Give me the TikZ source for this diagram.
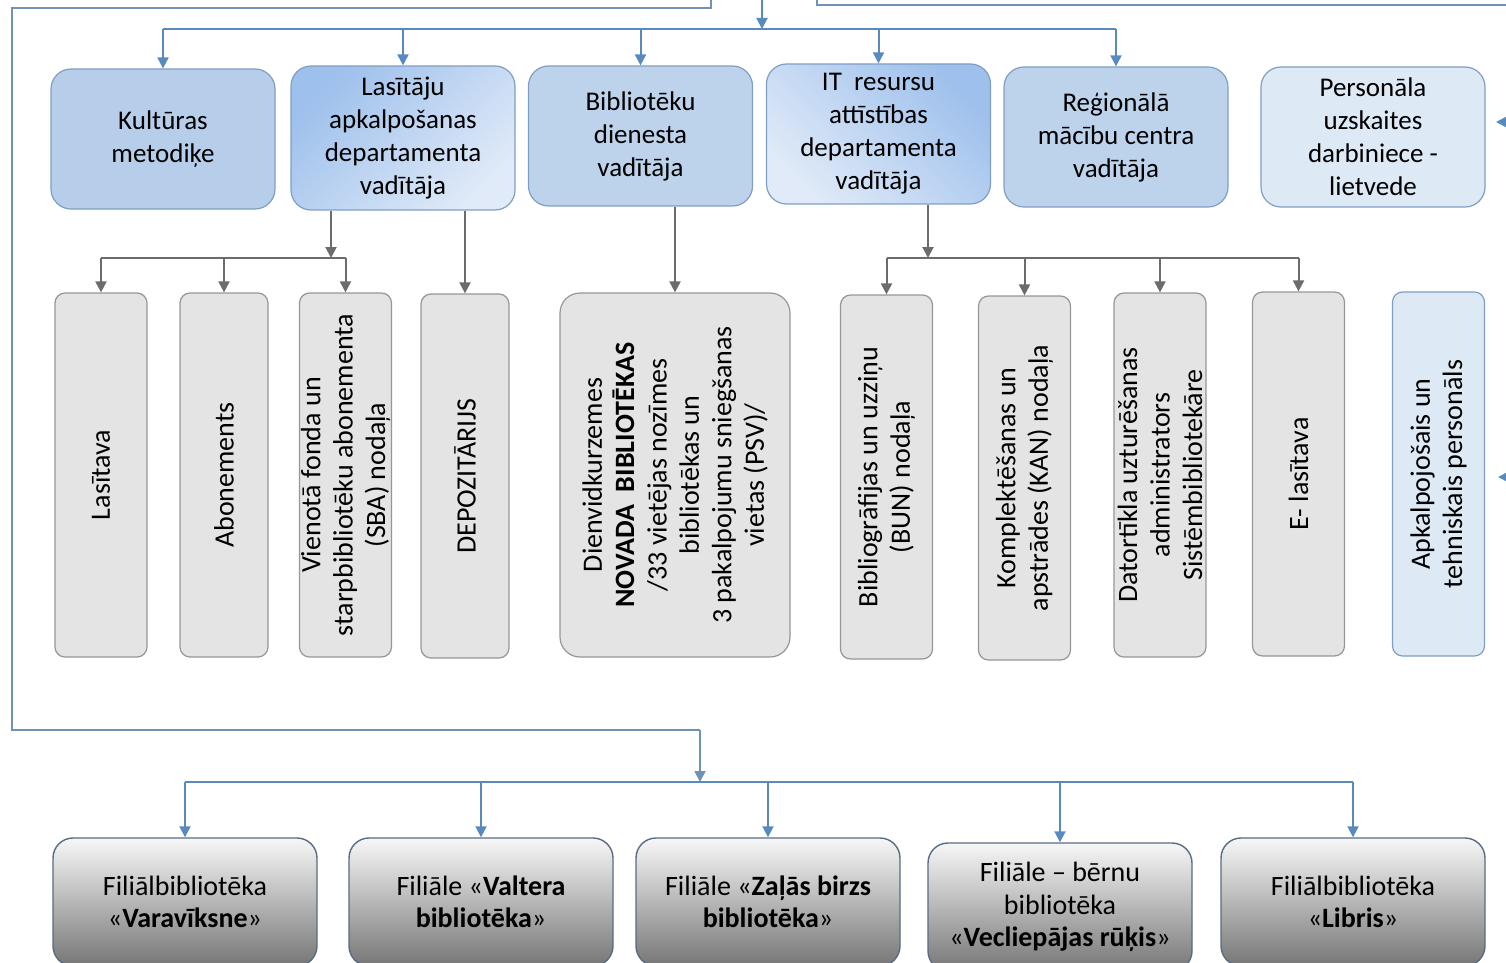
\documentclass[tikz,border=0pt]{standalone}
\usepackage{fontspec}
\setmainfont{Carlito}
\usetikzlibrary{arrows.meta}
\definecolor{linkblue}{RGB}{88,138,192}
\definecolor{frameblue}{RGB}{112,146,180}
\definecolor{linkgray}{RGB}{108,108,108}
\definecolor{boxedge}{RGB}{128,158,195}
\definecolor{fillA}{RGB}{182,206,234}
\definecolor{fillB}{RGB}{189,211,235}
\definecolor{gradA}{RGB}{158,192,236}
\definecolor{gradB}{RGB}{224,234,248}
\definecolor{paleblue}{RGB}{222,233,246}
\definecolor{cellgray}{RGB}{228,228,228}
\definecolor{celledge}{RGB}{150,150,150}
\definecolor{filtop}{RGB}{247,247,247}
\definecolor{filbot}{RGB}{118,118,118}
\definecolor{filedge}{RGB}{88,108,132}

\begin{document}
\begin{tikzpicture}
[every node/.style={inner sep=0pt, align=center, font=\fontsize{13.5}{16.5}\selectfont},
 >={Triangle[width=5.5pt,length=5.5pt]},
 topbox/.style={rectangle, rounded corners=10pt, minimum width=112pt, minimum height=70pt, draw=boxedge, line width=0.6pt},
 cellbox/.style={rectangle, rounded corners=5pt, rotate=90, minimum width=182pt, minimum height=46pt, fill=cellgray, draw=celledge, line width=0.6pt, font=\fontsize{14}{16.2}\selectfont},
 filbox/.style={rectangle, rounded corners=10pt, minimum width=132pt, minimum height=64pt, draw=filedge, line width=0.7pt, top color=filtop, bottom color=filbot, font=\fontsize{14}{16.2}\selectfont},
 blueline/.style={line width=1pt, color=linkblue},
 frameline/.style={line width=0.9pt, color=frameblue},
 grayline/.style={line width=1pt, color=linkgray}]
\useasboundingbox (0pt,0pt) rectangle (753pt,-481.5pt);
\clip (0pt,0pt) rectangle (753pt,-481.5pt);
% top row
\node (t1) [topbox, fill=fillA] at (81.5pt, -69.5pt) {Kultūras\\metodiķe};
\node (t2) [topbox, top color=gradA, bottom color=gradB, shading angle=45, minimum height=72pt] at (201.5pt, -69pt) {Lasītāju\\apkalpošanas\\departamenta\\vadītāja};
\node (t3) [topbox, fill=fillB] at (320.25pt, -68pt) {Bibliotēku\\dienesta\\vadītāja};
\node (t4) [topbox, top color=gradA, bottom color=gradB, shading angle=-45] at (439.25pt, -67pt) {IT\ \ resursu\\attīstības\\departamenta\\vadītāja};
\node (t5) [topbox, fill=fillB] at (558pt, -68.5pt) {Reģionālā\\mācību centra\\vadītāja};
\node (t6) [topbox, fill=paleblue] at (686.5pt, -68.5pt) {Personāla\\uzskaites\\darbiniece -\\lietvede};
% middle row
\node (m1) [cellbox] at (50.5pt, -237.5pt) {Lasītava};
\node (m2) [cellbox, minimum height=44pt] at (112pt, -237.5pt) {Abonements};
\node (m3) [cellbox] at (172.75pt, -237.5pt) {Vienotā fonda un\\starpbibliotēku abonementa\\(SBA) nodaļa};
\node (m4) [cellbox, minimum height=44pt] at (232.5pt, -238pt) {DEPOZITĀRIJS};
\node (m5) [cellbox, rounded corners=10pt, minimum height=115pt] at (337.5pt, -237.5pt) {Dienvidkurzemes\\\textbf{NOVADA\ \ BIBLIOTĒKAS}\\/33 vietējas nozīmes\\bibliotēkas un\\3 pakalpojumu sniegšanas\\vietas (PSV)/};
\node (m6) [cellbox] at (443.25pt, -238.5pt) {Bibliogrāfijas un uzziņu\\(BUN) nodaļa};
\node (m7) [cellbox] at (512.25pt, -239pt) {Komplektēšanas un\\apstrādes (KAN) nodaļa};
\node (m8) [cellbox] at (580pt, -237.5pt) {Datortīkla uzturēšanas\\administrators\\Sistēmbibliotekāre};
\node (m9) [cellbox] at (649.25pt, -237pt) {E- lasītava};
\node (m10) [cellbox, fill=paleblue, draw=boxedge] at (719.25pt, -237pt) {Apkalpojošais un\\tehniskais personāls};
% branches
\node (b1) [filbox] at (92.5pt, -451pt) {Filiālbibliotēka\\«\textbf{Varavīksne}»};
\node (b2) [filbox] at (240.5pt, -451pt) {Filiāle «\textbf{Valtera}\\\textbf{bibliotēka}»};
\node (b3) [filbox] at (384pt, -451pt) {Filiāle «\textbf{Zaļās birzs}\\\textbf{bibliotēka}»};
\node (b4) [filbox] at (530pt, -453.5pt) {Filiāle – bērnu\\bibliotēka\\«\textbf{Vecliepājas rūķis}»};
\node (b5) [filbox] at (676.5pt, -451pt) {Filiālbibliotēka\\«\textbf{Libris}»};
% hubs
\coordinate (c0) at (381pt, 0pt);
\coordinate (c1) at (381pt, -14.5pt);
\coordinate (f0) at (355.5pt, 0pt);
\coordinate (f1) at (6pt, -4pt);
\coordinate (f2) at (350pt, -365pt);
\coordinate (c2) at (350pt, -391pt);
\coordinate (r0) at (408.5pt, 0pt);
\coordinate (r1) at (753pt, -2.5pt);
\coordinate (k1) at (165.5pt, -129pt);
\coordinate (k2) at (464pt, -129pt);
\coordinate (e1) at (756pt, -61pt);
\coordinate (e2) at (748pt, -61pt);
\coordinate (e3) at (756pt, -238.5pt);
\coordinate (e4) at (749pt, -238.5pt);
% top connectors
\draw [blueline, ->] (c0) to (c1);
\draw [blueline] (t1.north |- c1) to (t5.north |- c1);
\draw [blueline, ->] (t1.north |- c1) to (t1.north);
\draw [blueline, ->] (t2.north |- c1) to (t2.north);
\draw [blueline, ->] (t3.north |- c1) to (t3.north);
\draw [blueline, ->] (t4.north |- c1) to (t4.north);
\draw [blueline, ->] (t5.north |- c1) to (t5.north);
\draw [frameline] (f0) |- (f1) |- (f2);
\draw [frameline, ->] (f2) to (c2);
\draw [frameline] (r0) |- (r1);
\draw [blueline, ->] (e1) to (e2);
\draw [blueline, ->] (e3) to (e4);
% middle connectors
\draw [grayline, ->] (t2.south -| k1) to (k1);
\draw [grayline] (m1.east |- k1) to (m3.east |- k1);
\draw [grayline, ->] (m1.east |- k1) to (m1.east);
\draw [grayline, ->] (m2.east |- k1) to (m2.east);
\draw [grayline, ->] (m3.east |- k1) to (m3.east);
\draw [grayline, ->] (m4.east |- t2.south) to (m4.east);
\draw [grayline, ->] (m5.east |- t3.south) to (m5.east);
\draw [grayline, ->] (t4.south -| k2) to (k2);
\draw [grayline] (m6.east |- k2) to (m9.east |- k2);
\draw [grayline, ->] (m6.east |- k2) to (m6.east);
\draw [grayline, ->] (m7.east |- k2) to (m7.east);
\draw [grayline, ->] (m8.east |- k2) to (m8.east);
\draw [grayline, ->] (m9.east |- k2) to (m9.east);
% bottom connectors
\draw [blueline] (b1.north |- c2) to (b5.north |- c2);
\draw [blueline, ->] (b1.north |- c2) to (b1.north);
\draw [blueline, ->] (b2.north |- c2) to (b2.north);
\draw [blueline, ->] (b3.north |- c2) to (b3.north);
\draw [blueline, ->] (b4.north |- c2) to (b4.north);
\draw [blueline, ->] (b5.north |- c2) to (b5.north);
\end{tikzpicture}
\end{document}
